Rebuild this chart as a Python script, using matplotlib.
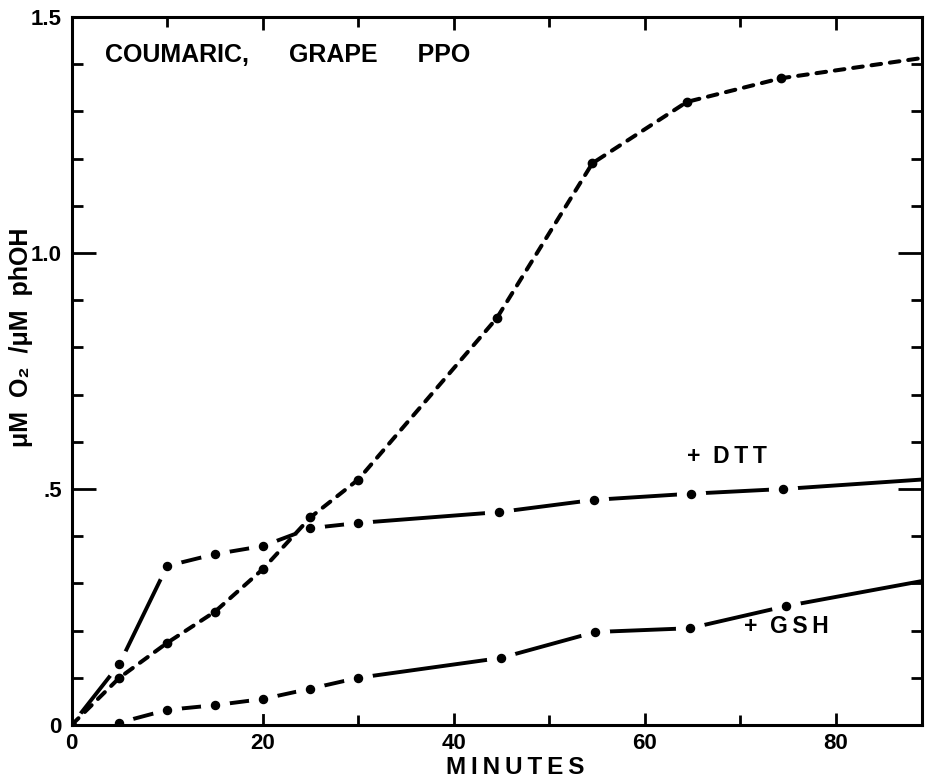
import matplotlib
matplotlib.use('Agg')
import matplotlib.pyplot as plt
from matplotlib.ticker import MultipleLocator, FixedLocator, FixedFormatter

plt.rcParams['font.family'] = ['Liberation Sans', 'DejaVu Sans']
plt.rcParams['font.weight'] = 'bold'

# control (no thiol), dashed
ctl_t = [0, 5, 10, 15, 20, 25, 30, 44.5, 54.5, 64.4, 74.2, 89]
ctl_y = [0, 0.10, 0.174, 0.24, 0.33, 0.44, 0.52, 0.862, 1.19, 1.32, 1.37, 1.413]
# + DTT
dtt_t = [0, 5, 10, 15, 20, 25, 30, 44.7, 54.7, 64.8, 74.5, 89]
dtt_y = [0, 0.129, 0.337, 0.362, 0.379, 0.417, 0.428, 0.451, 0.477, 0.49, 0.50, 0.52]
# + GSH
gsh_t = [5, 10, 15, 20, 25, 30, 44.9, 54.8, 64.7, 74.8, 89]
gsh_y = [0.005, 0.032, 0.042, 0.055, 0.077, 0.10, 0.142, 0.197, 0.205, 0.252, 0.305]

y_ticks = [0, 0.5, 1.0, 1.5]
y_labels = ['0', '.5', '1.0', '1.5']
x_ticks = [0, 20, 40, 60, 80]


def spaced(s):
    # old lettering guide look: a little air between the letters
    return '\u2009'.join(s)


fig = plt.figure(figsize=(9.25, 7.81), dpi=100)
ax = fig.add_axes([0.0774, 0.0717, 0.9194, 0.9066])

# thiol curves: solid segments, broken around the data dots
for t, y in [(dtt_t, dtt_y), (gsh_t, gsh_y)]:
    ax.plot(t, y, color='black', lw=2.8, solid_capstyle='round', zorder=2)
    ax.plot(t[:-1], y[:-1], 'o', markersize=20, color='white', zorder=2.05)
    ax.plot(t[:-1], y[:-1], 'o', markersize=5.8, color='black', zorder=2.1)

ax.plot(ctl_t, ctl_y, color='black', lw=2.9, linestyle=(0, (2.4, 2.2)),
        dash_capstyle='round', zorder=2.2)
ax.plot(ctl_t[1:-1], ctl_y[1:-1], 'o', color='black', markersize=6, zorder=2.3)

ax.set_xlim(0, 89)
ax.set_ylim(0, 1.5)

ax.xaxis.set_major_locator(FixedLocator(x_ticks))
ax.xaxis.set_minor_locator(MultipleLocator(10))
ax.yaxis.set_major_locator(FixedLocator(y_ticks))
ax.yaxis.set_major_formatter(FixedFormatter(y_labels))
ax.yaxis.set_minor_locator(MultipleLocator(0.1))

ax.tick_params(which='both', direction='in', top=True, right=True, width=2,
               labelsize=16)
ax.tick_params(axis='y', which='major', length=17, pad=7)
ax.tick_params(axis='y', which='minor', length=8)
ax.tick_params(axis='x', which='major', length=9, pad=6)
ax.tick_params(axis='x', which='minor', length=7)
for s in ax.spines.values():
    s.set_linewidth(2.2)
    s.set_zorder(3)

gap = '     \u2009'
ax.text(3.5, 1.42, 'COUMARIC,' + gap + 'GRAPE' + gap + 'PPO',
        fontsize=18, va='center', ha='left')
ax.text(64.4, 0.568, '+  ' + spaced('DTT'), fontsize=16.5, va='center', ha='left')
ax.text(70.4, 0.208, '+  ' + spaced('GSH'), fontsize=16.5, va='center', ha='left')

fig.text(515 / 925, 1 - 767 / 781, spaced('MINUTES'), fontsize=17.5, ha='center', va='center')
fig.text(21 / 925, 1 - 337 / 781, 'μM  O₂  /μM  phOH', fontsize=18, rotation=90,
         ha='center', va='center')

fig.savefig('out.png', dpi=100)
